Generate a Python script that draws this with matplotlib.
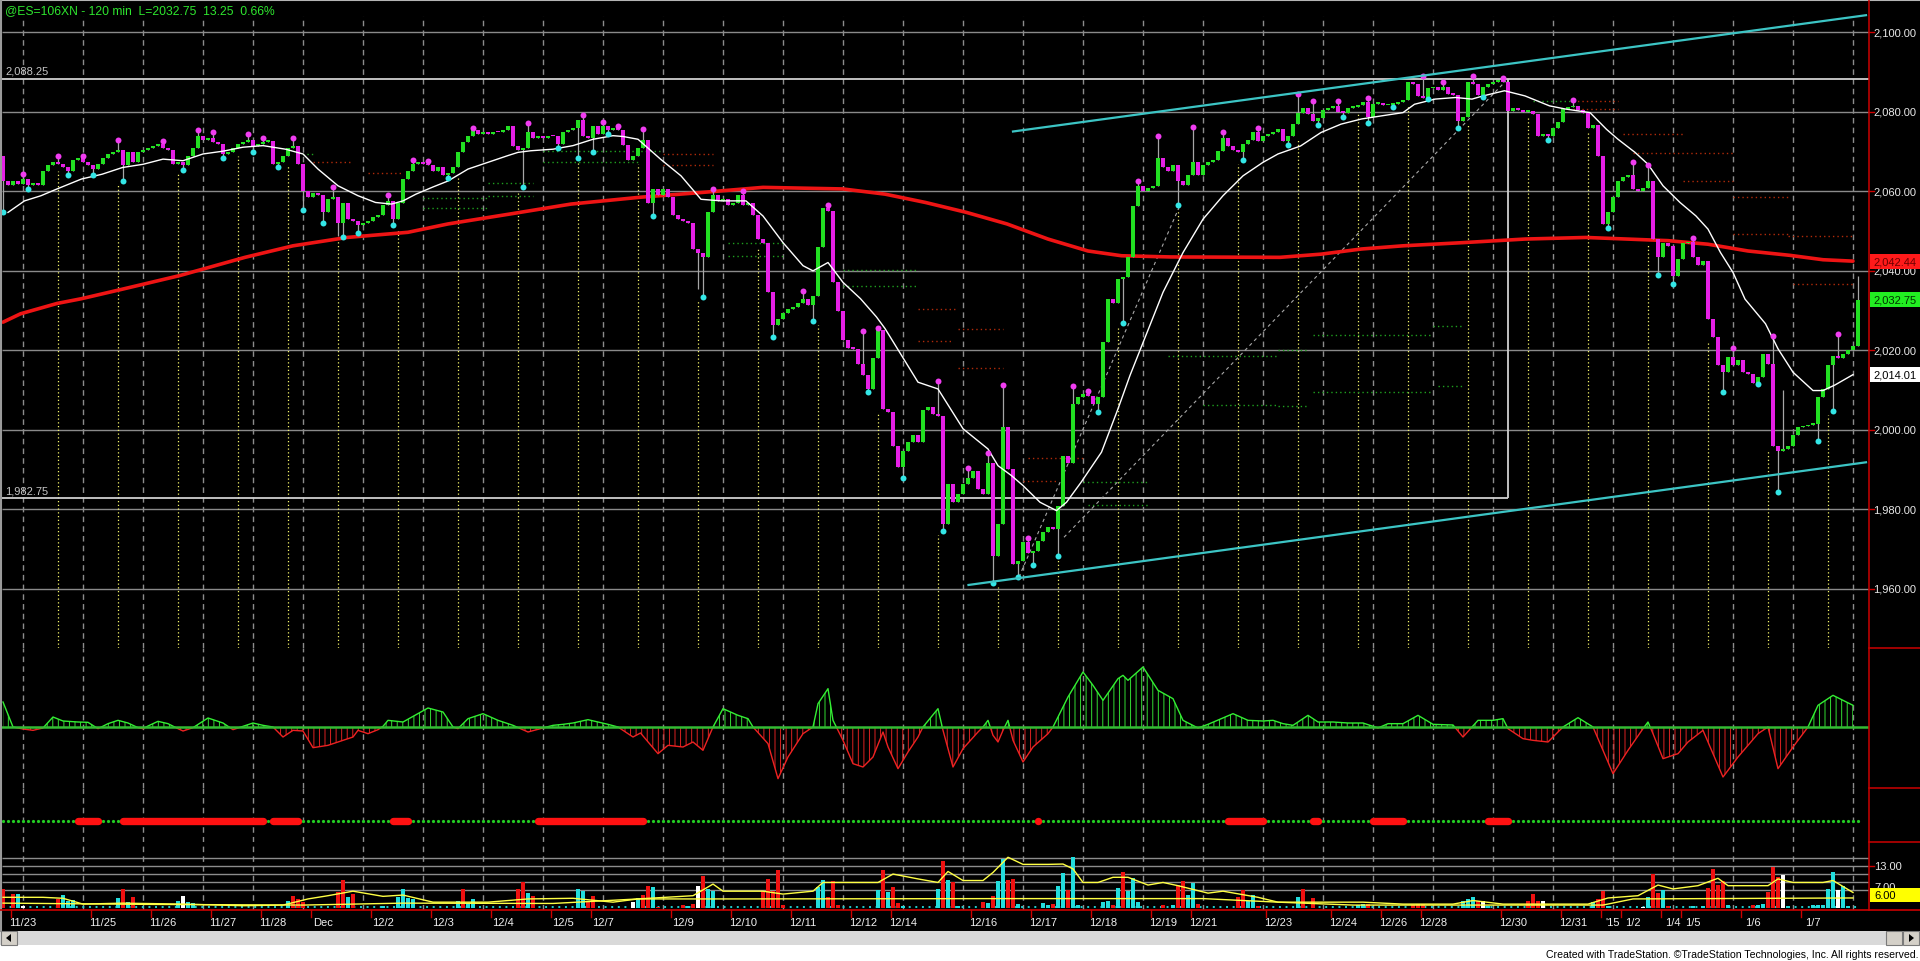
import numpy as np
import matplotlib
matplotlib.use("Agg")
import matplotlib.pyplot as plt
from matplotlib import font_manager as fm
from matplotlib import transforms as mtrans
from matplotlib.patches import Rectangle, Polygon
from matplotlib.lines import Line2D

# ------------------------------------------------------------------ data
TITLE = "@ES=106XN - 120 min  L=2032.75  13.25  0.66%"
OPEN0 = 2069.0
CLOSE = [
    2062.6, 2061.5, 2062.5, 2061.8, 2063, 2061.5, 2062, 2061.5, 2065, 2066.5,
    2067.5, 2066.8, 2066, 2065, 2068, 2068.5, 2067.5, 2066.5, 2065.5, 2067,
    2068.5, 2069.5, 2070, 2070.5, 2066.5, 2070, 2067.5, 2070, 2070.5, 2071,
    2071.3, 2071.8, 2071, 2070.5, 2067, 2067.5, 2066.5, 2069, 2071, 2074,
    2073, 2073.5, 2072.5, 2072, 2069.5, 2070, 2071, 2072, 2072.5, 2072.8,
    2071.5, 2072, 2072.5, 2072.7, 2067, 2067.5, 2069, 2071, 2071.5, 2067,
    2060, 2058.5, 2059.5, 2059, 2054.8, 2058, 2058.5, 2052, 2057, 2053,
    2052.5, 2051.5, 2052, 2052.5, 2053.5, 2054, 2056.5, 2057.6, 2053, 2057,
    2063, 2065, 2067, 2067.5, 2066.8, 2066.5, 2065, 2066, 2064, 2064.5,
    2066, 2070, 2072.5, 2074, 2075.5, 2074.5, 2075, 2074.5, 2075, 2074.8,
    2075.5, 2076.5, 2071.5, 2070.5, 2071, 2075, 2073.5, 2074, 2073.5, 2074,
    2073.8, 2072, 2075, 2075.5, 2076, 2078, 2074, 2073.5, 2076.5, 2074.5,
    2076.5, 2075.5, 2076, 2075.5, 2071.6, 2068, 2069, 2071, 2073, 2057,
    2060.5, 2059, 2060.5, 2058.5, 2054, 2053, 2052.5, 2052, 2045.5, 2044.5,
    2043.4, 2054.7, 2059, 2057.5, 2058, 2056.5, 2057, 2059, 2056.5, 2057,
    2054, 2048, 2047, 2034.6, 2026.3, 2028, 2029.5, 2030.5, 2031, 2032,
    2033, 2031.5, 2033.7, 2046, 2055.8, 2055, 2037.1, 2030, 2022.5, 2020.5,
    2020.4, 2016.6, 2013.7, 2010.3, 2018, 2025, 2005.3, 2004.5, 1996, 1990.6,
    1994.8, 1997, 1998.6, 1996.9, 2004.9, 2005.7, 2004, 2003.6, 1976.3, 1986.4,
    1981.8, 1983.9, 1986.4, 1988, 1989.7, 1985.1, 1984, 1991.8, 1968.3, 1976.3,
    2000.7, 1990.2, 1966.2, 1967, 1971.7, 1969, 1969.5, 1972, 1974.2, 1975.5,
    1975, 1980.9, 1993.5, 1991.8, 2006.6, 2008.2, 2009, 2008.5, 2006.6, 2008.2,
    2022, 2033, 2032, 2038, 2038.5, 2043.4, 2056.4, 2061.4, 2060, 2060.8,
    2061.4, 2068.5, 2066, 2065, 2066.5, 2062.6, 2061.5, 2064, 2067.3, 2064,
    2066.5, 2067.5, 2068, 2070.2, 2073.5, 2071.5, 2070.5, 2070, 2072, 2073,
    2074.8, 2072.7, 2074, 2074.5, 2075, 2075.8, 2072.7, 2074, 2076.9, 2079.8,
    2081, 2079.5, 2077.7, 2078.5, 2080.5, 2081, 2081.5, 2080, 2079.8, 2081,
    2081.3, 2081.8, 2082.4, 2078.6, 2082, 2082.2, 2081.7, 2081.8, 2082, 2082.5,
    2083, 2087.4, 2087, 2084, 2083.6, 2086, 2086.3, 2085.5, 2086.2, 2084.5,
    2084.3, 2077.7, 2078.6, 2087.4, 2087, 2084.3, 2086.2, 2087, 2087.6, 2088,
    2087.5, 2080.3, 2081, 2080.5, 2080, 2080.2, 2079.5, 2074, 2074.5, 2074,
    2076, 2077.5, 2080.7, 2081.2, 2081.5, 2080.5, 2079.8, 2076, 2076.8, 2068.9,
    2051.8, 2054.7, 2058.5, 2062.6, 2063.5, 2064, 2060.6, 2060, 2060.8, 2062.6,
    2048, 2043.4, 2047, 2046.3, 2038.8, 2043, 2047, 2047.3, 2043.5, 2041.5,
    2042.5, 2028, 2023.4, 2016.2, 2014.5, 2018.3, 2016.2, 2017.5, 2014.5, 2014,
    2011.8, 2013.3, 2019.2, 2016.6, 1996, 1994.8, 1995.2, 1996, 1998.6, 2000.7,
    2001, 2001.3, 2001.5, 2008.2, 2010.3, 2016.2, 2018.7, 2018, 2019, 2020,
    2021, 2032.75,
]
HIGH_PTS = {4: 2064.3, 11: 2069, 16: 2069, 23: 2073, 32: 2072.7, 39: 2075.4, 42: 2074.8,
            49: 2074.4, 52: 2073.3, 58: 2073.3, 66: 2061, 77: 2059, 82: 2068, 85: 2067.6,
            94: 2076, 105: 2077.3, 116: 2079.2, 120: 2077.5, 123: 2076.5, 128: 2075.8,
            142: 2060.7, 148: 2060, 160: 2035, 165: 2056.5, 172: 2024.9, 175: 2025.6,
            187: 2012.3, 193: 1990.3, 197: 1994.1, 200: 2011.3, 205: 1972.7, 214: 2011,
            217: 2009.7, 227: 2062.6, 231: 2073.8, 238: 2076.3, 244: 2075, 251: 2076,
            259: 2084.6, 262: 2082.6, 267: 2082.6, 273: 2083.6, 284: 2088.9, 288: 2087.5,
            294: 2088.9, 300: 2088.6, 314: 2082.9, 326: 2067.3, 329: 2066.7, 338: 2048.2,
            346: 2020.6, 354: 2023.6, 356: 2010.0, 367: 2024, 371: 2038.8}
LOW_PTS = {0: 2054.7, 5: 2060.7, 13: 2064, 18: 2064, 24: 2062.6, 36: 2065.3, 44: 2068.3,
           50: 2069.8, 55: 2066, 60: 2055.3, 64: 2052, 67: 2048.8, 68: 2048.4, 71: 2049.5,
           78: 2051.5, 89: 2063.3, 104: 2061.2, 111: 2071, 115: 2068.5, 118: 2070,
           121: 2074.4, 130: 2053.7, 139: 2035.4, 140: 2033.3, 154: 2023.4, 162: 2027.4,
           173: 2009.5, 180: 1987.8, 188: 1974.5, 198: 1961.4, 203: 1962.9, 206: 1966,
           211: 1968.2, 219: 2004.5, 224: 2026.9, 235: 2056.5, 248: 2068, 257: 2071.6,
           263: 2076.6, 268: 2078.6, 273: 2077.2, 278: 2081.3, 285: 2083.2, 291: 2076,
           296: 2083.8, 309: 2073, 321: 2050.7, 331: 2038.9, 334: 2036.7, 344: 2009.5,
           351: 2011.5, 355: 1984.3, 363: 1997.1, 366: 2004.7}
NO_DOT_HIGH = [356, 371]
NO_DOT_LOW = [67, 139]

MA_FAST_BAR = [1, 4.3, 7.6, 10.8, 15.7, 19.8, 23.9, 28, 32, 36, 40, 44, 48, 52, 56.5, 60, 63, 67, 71,
               74.5, 77.7, 80, 82.6, 86, 89, 93, 97, 101, 103, 105.5, 110, 114, 118, 122, 124, 127,
               131.5, 135.6, 139.6, 143.7, 148.6, 152, 156, 160, 162, 165, 168, 171.5, 174.7, 176.4,
               183, 187, 192, 197, 199, 201.7, 204, 207.4, 210.7, 212.7, 215.6, 219.7, 223, 225.4,
               232, 236, 240, 244, 248, 252, 255, 259.5, 263.6, 267.6, 271.7, 275.8, 280, 282.3,
               286.4, 290.5, 293.8, 296, 300.3, 304.4, 309.3, 312.5, 317.4, 320.7, 323, 326.4, 329,
               332, 335.4, 338.6, 341, 343.5, 346, 348.4, 352.5, 355, 358, 362, 364, 366.4, 370]
MA_FAST_VAL = [2054.7, 2057.6, 2058.9, 2060.6, 2063.1, 2064.3, 2066.0, 2066.8, 2068.1, 2067.7,
               2069.4, 2070.1, 2071.1, 2071.5, 2070.6, 2069.4, 2065.6, 2061.4, 2058.9, 2057.2,
               2056.8, 2057.6, 2059.3, 2061.1, 2062.6, 2065.6, 2067.3, 2069.0, 2069.8, 2070.2,
               2070.6, 2071.5, 2073.1, 2074.0, 2073.8, 2073.1, 2068.1, 2063.9, 2058.0, 2057.6,
               2057.6, 2053.8, 2047.1, 2041.3, 2040.0, 2042.1, 2037.1, 2033.0, 2028.4, 2025.5,
               2012.0, 2010.3, 2000.3, 1995.2, 1991.0, 1988.5, 1986.0, 1981.8, 1979.7, 1981.8,
               1986.8, 1994.4, 2005.3, 2013.7, 2034.6, 2044.6, 2053.0, 2058.9, 2063.9,
               2067.3, 2069.4, 2071.4, 2074.8, 2076.9, 2078.2, 2079.0, 2079.8, 2081.9, 2083.2,
               2083.6, 2083.2, 2084.0, 2085.3, 2084.0, 2081.5, 2080.7, 2079.8, 2075.6, 2073.1,
               2069.8, 2066.8, 2061.4, 2057.2, 2053.8, 2050.5, 2044.6, 2039.6, 2032.9, 2026.7,
               2020.4, 2014.5, 2009.9, 2009.9, 2011.3, 2013.9]
MA_SLOW_BAR = [0, 3.5, 10.8, 15.7, 23.9, 35.3, 48.4, 58, 68.8, 81, 89, 101.4, 113.6, 127.3, 139.6,
               152, 160, 168, 176.4, 184.5, 192.7, 200.8, 209, 217, 223.7, 233.5, 255.4, 263.6,
               271.7, 280, 292, 304.4, 316.6, 324.8, 333, 341, 349, 357.4, 364, 370]
MA_SLOW_VAL = [2027.1, 2029.2, 2031.8, 2033.0, 2035.4, 2038.8, 2043.4, 2046.3, 2048.4, 2049.7,
               2051.8, 2054.3, 2056.8, 2058.5, 2059.7, 2061.0, 2060.8, 2060.6, 2059.3, 2057.2,
               2054.7, 2051.8, 2048.0, 2045.0, 2043.8, 2043.5, 2043.4, 2044.2, 2045.5, 2046.3,
               2047.1, 2048.0, 2048.4, 2048.0, 2047.6, 2046.7, 2045.0, 2043.9, 2042.8, 2042.44]

OSC = [(0, 75), (2, 0), (4, -6), (6, -10), (8, -3), (10, 30), (12, 18), (15, 15), (17, 14), (19, -5),
       (21, 10), (23, 20), (25, 12), (27, -2), (28, -5), (29, 3), (31, 17), (33, 10), (35, -5),
       (36, -12), (38, -2), (41, 27), (44, 12), (46, -8), (48, 2), (50, 12), (52, 5), (54, 0),
       (56, -30), (58, -10), (60, -12), (62, -62), (65, -55), (67, -45), (70, -30), (71, -10),
       (73, -20), (75, -8), (76, 2), (77, 20), (80, 15), (83, 40), (85, 57), (88, 45), (90, 0),
       (91, -5), (93, 25), (96, 40), (99, 20), (102, 5), (105, -15), (108, -3), (110, 5), (112, 8),
       (114, 12), (117, 22), (121, 8), (123, 0), (126, -30), (127.5, -18), (131, -80), (133, -55),
       (136, -60), (138, -45), (140, -70), (142, 0), (144, 55), (147, 35), (149, 25), (150, 0),
       (153, -50), (155, -155), (157, -90), (160, -20), (162, 0), (163, 70), (165, 115), (166, 20),
       (168, -40), (170, -110), (172, -120), (174, -90), (176, -15), (177, -60), (179, -125),
       (181, -75), (183, -30), (184, 0), (187, 55), (188, -10), (190, -120), (192, -65), (195, -15),
       (196, 0), (197, 20), (198, -25), (199, -45), (200, -10), (201, 20), (202, -40), (204, -105),
       (206, -60), (209, -20), (210, 0), (213, 90), (216, 165), (218, 125), (220, 80), (223, 145),
       (224, 155), (225, 140), (228, 180), (231, 110), (234, 85), (236, 20), (239, -3), (241, 8),
       (246, 40), (249, 20), (252, 18), (254, 20), (256, 10), (258, 5), (261, 35), (263, 15),
       (266, 15), (269, 12), (272, 12), (275, -3), (277, 10), (280, 10), (283, 35), (286, 8),
       (290, 6), (292, -30), (295, 20), (298, 20), (300, 25), (301, -5), (304, -35), (306, -40),
       (309, -45), (312, 0), (315, 28), (318, 0), (320, -70), (322, -140), (325, -70), (328, -5),
       (329, 15), (330, -20), (332, -95), (335, -80), (337, -45), (340, -10), (344, -150),
       (347, -90), (351, -20), (353, 0), (355, -125), (358, -60), (361, 0), (363, 65), (366, 95),
       (368, 80), (370, 65)]
OSC_BAR = [b for b, v in OSC]
OSC_VAL = [v for b, v in OSC]

DOT_RED_RANGES = [(15, 19), (24, 52), (54, 59), (78, 81), (107, 128), (207, 207),
                  (245, 252), (262, 263), (274, 280), (297, 301)]

VOL = [(0, 6.0, 'r'), (2, 4.4, 'r'), (3, 4.4, 'c'), (4, 0.8, 'w'), (11, 2.9, 'r'), (12, 4.1, 'c'),
       (13, 2.4, 'c'), (14, 2.6, 'c'), (23, 3.1, 'c'), (24, 6.0, 'r'), (25, 1.9, 'c'), (26, 3.4, 'r'),
       (35, 2.4, 'c'), (36, 3.9, 'w'), (37, 1.9, 'c'), (38, 1.5, 'c'), (57, 2.4, 'c'), (58, 3.9, 'r'),
       (59, 2.9, 'r'), (60, 1.9, 'r'), (67, 5.0, 'r'), (68, 8.8, 'r'), (69, 3.4, 'c'), (70, 4.4, 'r'),
       (76, 0.8, 'c'), (79, 3.4, 'c'), (80, 6.0, 'c'), (81, 3.1, 'c'), (82, 2.9, 'c'), (91, 2.4, 'c'),
       (92, 6.0, 'r'), (93, 1.5, 'c'), (94, 2.9, 'c'), (103, 6.0, 'r'), (104, 8.0, 'r'),
       (105, 4.7, 'c'), (106, 3.9, 'r'), (115, 6.0, 'c'), (116, 5.3, 'c'), (117, 2.4, 'r'),
       (118, 3.9, 'r'), (126, 1.9, 'w'), (127, 3.1, 'c'), (128, 4.1, 'r'), (129, 7.0, 'r'),
       (130, 6.5, 'c'), (131, 0.3, 'r'), (136, 1.1, 'r'), (137, 0.8, 'c'), (138, 1.3, 'r'),
       (139, 7.0, 'w'), (140, 10.1, 'r'), (141, 6.0, 'c'), (142, 5.3, 'c'), (152, 5.5, 'r'),
       (153, 9.1, 'r'), (154, 5.5, 'r'), (155, 11.9, 'r'), (156, 1.1, 'r'), (163, 6.5, 'c'),
       (164, 8.8, 'c'), (165, 3.4, 'r'), (166, 8.4, 'r'), (167, 1.0, 'r'), (175, 5.8, 'c'),
       (176, 11.9, 'r'), (177, 5.0, 'c'), (178, 6.5, 'r'), (179, 1.5, 'r'), (180, 0.8, 'c'),
       (187, 6.0, 'c'), (188, 14.7, 'r'), (189, 8.8, 'c'), (190, 8.0, 'r'), (191, 0.8, 'c'),
       (196, 1.9, 'r'), (197, 1.5, 'c'), (198, 3.9, 'r'), (199, 8.4, 'c'), (200, 15.3, 'c'),
       (201, 8.9, 'r'), (202, 9.1, 'r'), (203, 1.3, 'c'), (208, 1.5, 'c'), (209, 1.1, 'c'),
       (210, 1.3, 'r'), (211, 7.0, 'c'), (212, 10.8, 'c'), (213, 5.7, 'r'), (214, 15.8, 'c'),
       (215, 1.0, 'c'), (220, 1.9, 'c'), (221, 2.2, 'c'), (222, 1.1, 'r'), (223, 6.3, 'c'),
       (224, 11.3, 'r'), (225, 5.3, 'c'), (226, 9.3, 'c'), (227, 1.9, 'c'), (232, 1.1, 'r'),
       (234, 1.1, 'c'), (235, 7.3, 'r'), (236, 8.4, 'r'), (237, 4.1, 'c'), (238, 7.7, 'c'),
       (239, 1.3, 'r'), (247, 3.4, 'r'), (248, 5.8, 'r'), (249, 2.4, 'c'), (250, 4.1, 'c'),
       (251, 0.8, 'r'), (259, 3.6, 'c'), (260, 6.0, 'r'), (262, 3.2, 'r'), (271, 1.1, 'c'),
       (272, 1.3, 'c'), (273, 1.3, 'r'), (282, 1.0, 'r'), (283, 1.3, 'r'), (284, 1.3, 'r'),
       (292, 2.4, 'c'), (293, 2.9, 'c'), (294, 3.4, 'c'), (295, 2.2, 'r'), (296, 2.2, 'w'),
       (297, 0.8, 'c'), (305, 2.4, 'r'), (306, 4.4, 'r'), (307, 2.2, 'r'), (308, 2.2, 'w'),
       (318, 1.9, 'c'), (319, 2.9, 'r'), (320, 5.3, 'r'), (321, 0.8, 'c'), (328, 0.5, 'w'),
       (329, 3.4, 'c'), (330, 10.6, 'r'), (331, 4.6, 'r'), (332, 5.8, 'c'), (333, 0.8, 'r'),
       (338, 0.8, 'c'), (340, 0.8, 'c'), (341, 6.2, 'r'), (342, 12.2, 'r'), (343, 7.3, 'r'),
       (344, 8.4, 'r'), (345, 1.0, 'c'), (350, 1.1, 'r'), (351, 1.1, 'c'), (352, 1.3, 'c'),
       (353, 5.0, 'r'), (354, 12.9, 'r'), (355, 9.6, 'r'), (356, 10.3, 'w'), (357, 0.8, 'c'),
       (362, 1.0, 'c'), (363, 1.0, 'c'), (364, 1.0, 'c'), (365, 6.0, 'c'), (366, 11.1, 'c'),
       (367, 5.8, 'w'), (368, 7.0, 'c'), (369, 0.8, 'c')]
VOL_BAR = [b for b, v, c in VOL]
VOL_VAL = [v for b, v, c in VOL]
VOL_CLR = [c for b, v, c in VOL]

VAVG1_BAR = [0, 8, 12, 16, 24, 36, 48, 56, 61, 65, 70, 76, 80, 86, 97, 105, 114, 122, 127, 138,
             142, 144, 152, 156, 162, 164, 175, 178, 183, 187, 189, 192, 196, 198, 201, 204, 209,
             212, 214, 216, 219, 222, 225, 229, 232, 235, 241, 244, 251, 255, 272, 280, 290, 294,
             300, 317, 321, 327, 331, 334, 339, 343, 345, 353, 355, 358, 364, 366, 370]
VAVG1_VAL = [3.4, 3.4, 3.1, 1.3, 1.6, 1.3, 0.8, 1.0, 2.9, 3.9, 5.3, 3.7, 4.1, 1.9, 1.9, 2.9, 3.1,
             1.9, 2.9, 3.9, 7.5, 5.3, 5.3, 4.4, 5.3, 8.0, 8.0, 10.6, 9.1, 8.0, 11.4, 8.6, 8.6, 11.1,
             15.8, 13.6, 13.6, 13.7, 12.2, 8.0, 8.0, 9.6, 9.6, 7.2, 8.0, 7.0, 4.7, 5.3, 3.4, 1.9,
             1.9, 1.3, 1.3, 2.4, 1.3, 1.3, 3.2, 3.9, 7.2, 6.0, 7.0, 9.3, 7.0, 7.0, 9.1, 8.0, 8.0,
             8.6, 4.9]
VAVG2_BAR = [0, 30, 60, 80, 110, 127, 145, 200, 240, 255, 270, 320, 326, 370]
VAVG2_VAL = [1.6, 1.2, 1.0, 1.6, 1.5, 2.9, 2.9, 3.0, 3.0, 1.9, 1.0, 1.0, 2.9, 3.2]
VOL_GRID = [5.6, 8.1, 10.6, 13.0, 15.5]

DATE_LABELS = ['11/23', '11/25', '11/26', '11/27', '11/28', 'Dec', '12/2', '12/3', '12/4', '12/5',
               '12/7', '12/9', '12/10', '12/11', '12/12', '12/14', '12/16', '12/17', '12/18',
               '12/19', '12/21', '12/23', '12/24', '12/26', '12/28', '12/30', '12/31', "'15",
               '1/2', '1/4', '1/5', '1/6', '1/7']
DATE_BARS = [4, 20, 32, 44, 54, 64, 76, 88, 100, 112, 120, 136, 148, 160, 172, 180, 196, 208,
             220, 232, 240, 255, 268, 278, 286, 302, 314, 322, 326, 334, 338, 350, 362]
DAY_GRID_BARS = [4, 16, 28, 40, 50, 60, 72, 84, 96, 108, 120, 132, 144, 156, 168, 180, 192, 204,
                 216, 228, 240, 252, 264, 274, 286, 298, 310, 322, 334, 346, 358, 370]
YELLOW_BARS = [11, 23, 35, 47, 57, 67, 79, 91, 103, 115, 127, 139, 151, 163, 175, 187, 199, 211,
               223, 235, 247, 259, 271, 281, 293, 305, 317, 329, 341, 353, 365]
PRICE_TICKS = [1960, 1980, 2000, 2020, 2040, 2060, 2080, 2100]
LEVEL_HI, LEVEL_LO, BOX_END_BAR = 2088.25, 1982.75, 301
CHAN_UP = ([202.0, 372.6], [2075.05, 2104.3])
CHAN_DN = ([193.1, 372.6], [1961.0, 1991.85])
DIAG_1 = ([203.2, 235.4], [1963.0, 2056.5])
DIAG_2 = ([212.2, 300.6], [1973.0, 2087.8])
SR_LINES = [(59, 62, 2069.4, 'g'), (62, 70, 2067.5, 'r'), (73, 80, 2064.7, 'r'),
            (84, 97, 2058.3, 'g'), (84, 97, 2055.7, 'g'), (97, 106, 2062.0, 'g'),
            (97, 106, 2058.8, 'g'), (108, 132, 2070.2, 'g'), (108, 127, 2067.3, 'g'),
            (132, 142, 2069.4, 'r'), (132, 142, 2066.6, 'r'), (145, 156, 2046.9, 'g'),
            (145, 156, 2043.8, 'g'), (168, 183, 2040.3, 'g'), (168, 183, 2036.3, 'g'),
            (183, 191, 2030.4, 'r'), (183, 190, 2022.4, 'r'), (191, 200, 2025.3, 'r'),
            (191, 200, 2015.5, 'r'), (204, 211, 1987.2, 'r'), (205, 216, 1992.9, 'r'),
            (216, 229, 1987.0, 'g'), (217, 229, 1981.2, 'g'), (233, 255, 2018.6, 'g'),
            (255, 261, 2020.0, 'g'), (240, 255, 2006.3, 'g'), (255, 261, 2006.1, 'g'),
            (262, 286, 2023.8, 'g'), (286, 292, 2026.1, 'g'), (262, 286, 2009.5, 'g'),
            (287, 292, 2011.0, 'g'), (306, 314, 2082.8, 'g'), (314, 323, 2082.8, 'r'),
            (314, 323, 2080.8, 'r'), (324, 336, 2074.4, 'r'), (326, 346, 2069.6, 'r'),
            (336, 346, 2062.6, 'r'), (346, 357, 2058.5, 'r'), (346, 357, 2049.2, 'r'),
            (357, 370, 2048.7, 'r'), (358, 370, 2036.7, 'r')]
LAST_TAGS = [(2042.44, '#ff1a1a', '#6a0000'), (2032.75, '#22ee22', '#003300'),
             (2014.01, '#ffffff', '#000000')]
COPYRIGHT = "Created with TradeStation. \u00a9TradeStation Technologies, Inc. All rights reserved."

# ------------------------------------------------------------------ style
avail = {f.name for f in fm.fontManager.ttflist}
FONT = next((f for f in ['Liberation Sans', 'Arial', 'DejaVu Sans'] if f in avail), 'DejaVu Sans')
plt.rcParams['font.family'] = [FONT, 'DejaVu Sans']
plt.rcParams['hatch.linewidth'] = 0.7

GREEN, MAGENTA = '#22e022', '#e620e6'
CYAN_DOT, MAG_DOT = '#33e6e6', '#f03cf0'
GRID_GREY = '#8a8a8a'
DAY_GREY = '#8c8c8c'
AXRED = '#cc0000'

W, H = 1920, 962
BAR_X0, BAR_DX = 3.0, 5.0
PLOT_L, PLOT_R = 2.0, 1869.0
XLIM = ((PLOT_L - BAR_X0) / BAR_DX, (PLOT_R - BAR_X0) / BAR_DX)
Y_MAIN = (3, 649)
Y_OSC = (649, 789)
Y_DOTS = (789, 843)
Y_VOL = (843, 911)
P_REF, P_REF_Y, PX_PER_PT = 2100.0, 33.3, 3.976

fig = plt.figure(figsize=(W / 100, H / 100), dpi=100, facecolor='black')


def fx(px):
    return px / W


def fy(py):
    return 1 - py / H


def panel(y0, y1):
    ax = fig.add_axes([fx(PLOT_L), fy(y1), (PLOT_R - PLOT_L) / W, (y1 - y0) / H])
    ax.set_xlim(*XLIM)
    ax.set_axis_off()
    return ax


def fig_line(x0, y0, x1, y1, **kw):
    fig.add_artist(Line2D([fx(x0), fx(x1)], [fy(y0), fy(y1)], transform=fig.transFigure, **kw))


def fig_rect(x0, y0, x1, y1, **kw):
    fig.add_artist(Rectangle((fx(x0), fy(y1)), (x1 - x0) / W, (y1 - y0) / H,
                             transform=fig.transFigure, **kw))


def day_grid(ax, y0=None, y1=None):
    lo, hi = ax.get_ylim()
    ax.vlines(DAY_GRID_BARS, lo if y0 is None else y0, hi if y1 is None else y1,
              color=DAY_GREY, lw=1.0, linestyles=(0, (4, 3)), zorder=1)


# ------------------------------------------------------------------ main price panel
axm = panel(*Y_MAIN)
ytop = P_REF + (P_REF_Y - Y_MAIN[0]) / PX_PER_PT
ybot = P_REF - (Y_MAIN[1] - P_REF_Y) / PX_PER_PT
axm.set_ylim(ybot, ytop)

C = np.array(CLOSE, dtype=float)
n = len(C)
idx = np.arange(n)
O = np.concatenate([[OPEN0], C[:-1]])
top = np.maximum(O, C)
bot = np.minimum(O, C)
HI = top.copy()
LO = bot.copy()
for k, v in HIGH_PTS.items():
    HI[k] = max(HI[k], v)
for k, v in LOW_PTS.items():
    LO[k] = min(LO[k], v)

axm.hlines(PRICE_TICKS, XLIM[0], XLIM[1], color=GRID_GREY, lw=1.0, zorder=1)
day_grid(axm, ybot, 2104.0)
for b in YELLOW_BARS:
    lo_here = LO[max(b - 1, 0):b + 2].min() - 1.0
    axm.vlines(b, ybot, lo_here, color='#f5f56a', lw=0.9, linestyles=(0, (1, 2)), zorder=1)

# levels box
axm.hlines(LEVEL_HI, XLIM[0], XLIM[1], color='#d0d0d0', lw=1.3, zorder=1.5)
axm.hlines(LEVEL_LO, XLIM[0], BOX_END_BAR, color='#d0d0d0', lw=1.3, zorder=1.5)
axm.vlines(BOX_END_BAR, LEVEL_LO, LEVEL_HI, color='#d0d0d0', lw=1.3, zorder=1.5)

for s, e, p, c in SR_LINES:
    axm.plot([s, e], [p, p], color='#1f9f1f' if c == 'g' else '#b02a0a', lw=1.0,
             ls=(0, (1, 2.2)), zorder=1.6)

axm.plot(*DIAG_1, color='#a8a8a8', lw=0.8, ls=(0, (3, 3)), zorder=1.7)
axm.plot(*DIAG_2, color='#a8a8a8', lw=0.8, ls=(0, (3, 3)), zorder=1.7)

axm.plot(MA_SLOW_BAR, MA_SLOW_VAL, color='#ee1414', lw=2.6, zorder=2, solid_capstyle='round')

# candles
axm.vlines(idx, LO, HI, color='#a6a6a6', lw=0.9, zorder=3)
body_h = np.maximum(top - bot, 0.35)
up = C >= O
axm.bar(idx[up], body_h[up], bottom=bot[up], width=0.66, color=GREEN, lw=0, zorder=4)
axm.bar(idx[~up], body_h[~up], bottom=bot[~up], width=0.66, color=MAGENTA, lw=0, zorder=4)

axm.plot(MA_FAST_BAR, MA_FAST_VAL, color='#ffffff', lw=1.0, zorder=4.5)

mag_bars = [b for b in HIGH_PTS if b not in NO_DOT_HIGH]
cy_bars = [b for b in LOW_PTS if b not in NO_DOT_LOW]
axm.plot(mag_bars, HI[mag_bars], 'o', color=MAG_DOT, ms=4.3, mec='none', zorder=5)
axm.plot(cy_bars, LO[cy_bars], 'o', color=CYAN_DOT, ms=4.3, mec='none', zorder=5)

axm.plot(*CHAN_UP, color='#3cc4c4', lw=1.6, zorder=5.5)
axm.plot(*CHAN_DN, color='#3cc4c4', lw=1.6, zorder=5.5)

# ------------------------------------------------------------------ oscillator panel
axo = panel(*Y_OSC)
OSC_ZERO_Y = 728.0
axo.set_ylim(-(Y_OSC[1] - OSC_ZERO_Y) * 3, (OSC_ZERO_Y - Y_OSC[0]) * 3)
day_grid(axo)
ob = np.array(OSC_BAR, dtype=float)
ov = np.array(OSC_VAL, dtype=float)
axo.fill_between(ob, 0, ov, where=ov >= 0, interpolate=True, facecolor='none',
                 edgecolor='#33dd33', hatch='|||', linewidth=0, zorder=2)
axo.fill_between(ob, 0, ov, where=ov <= 0, interpolate=True, facecolor='none',
                 edgecolor='#dd2222', hatch='|||', linewidth=0, zorder=2)
ln_g, = axo.plot(ob, ov, color='#33ee33', lw=1.0, zorder=3)
ln_g.set_clip_path(Rectangle((XLIM[0], 0), XLIM[1] - XLIM[0], 1000, transform=axo.transData))
ln_r, = axo.plot(ob, ov, color='#ee2222', lw=1.0, zorder=3)
ln_r.set_clip_path(Rectangle((XLIM[0], -1000), XLIM[1] - XLIM[0], 1000, transform=axo.transData))
axo.axhline(0, color='#33bb33', lw=1.8, zorder=3.5)

# ------------------------------------------------------------------ dots panel
axd = panel(*Y_DOTS)
axd.set_ylim(0, 1)
day_grid(axd)
DOT_Y = (Y_DOTS[1] - 822) / (Y_DOTS[1] - Y_DOTS[0])
red_set = set()
for s, e in DOT_RED_RANGES:
    red_set.update(range(s, e + 1))
g_bars = [i for i in range(n) if i not in red_set]
axd.plot(g_bars, [DOT_Y] * len(g_bars), 'o', color='#22cc22', ms=2.3, mec='none', zorder=2)
for s, e in DOT_RED_RANGES:
    if e > s:
        axd.plot([s, e], [DOT_Y, DOT_Y], color='#ff1111', lw=5.3, solid_capstyle='round', zorder=3)
    else:
        axd.plot([s], [DOT_Y], 'o', color='#ff1111', ms=5.3, mec='none', zorder=3)

# ------------------------------------------------------------------ volume panel
axv = panel(*Y_VOL)
VOL_BASE_Y, VOL_PX = 909.3, 3.23
axv.set_ylim((VOL_BASE_Y - Y_VOL[1]) / VOL_PX, (VOL_BASE_Y - Y_VOL[0]) / VOL_PX)
day_grid(axv)
axv.hlines(VOL_GRID, XLIM[0], XLIM[1], color='#8c8c8c', lw=1.0, zorder=1.2)
cmap = {'r': '#ee1111', 'c': '#22dddd', 'w': '#ffffff'}
axv.bar(VOL_BAR, VOL_VAL, width=0.66, color=[cmap[c] for c in VOL_CLR], lw=0, zorder=2)
axv.plot([0, n - 1], [0.3, 0.3], color='#22cccc', lw=1.4, ls=(0, (1, 2.4)), zorder=1.5)
axv.plot(VAVG1_BAR, VAVG1_VAL, color='#ffff44', lw=1.0, zorder=3)
axv.plot(VAVG2_BAR, VAVG2_VAL, color='#ffff44', lw=1.0, zorder=3)

# ------------------------------------------------------------------ frame, axes & labels
fig_line(0, 1, W, 1, color='#b4b4b4', lw=1.5)
fig_line(1, 0, 1, 932, color='#9a9a9a', lw=1.5)
fig_line(PLOT_R, 0, PLOT_R, Y_VOL[1], color=AXRED, lw=1.1)
for yy in (Y_MAIN[1], Y_OSC[1], Y_DOTS[1]):
    fig_line(PLOT_R, yy, W, yy, color=AXRED, lw=1.1)
fig_line(0, Y_VOL[1], W, Y_VOL[1], color=AXRED, lw=1.2)

fig.text(fx(5), fy(11), TITLE, color='#2ee62e', fontsize=8.7, va='center', ha='left')

tr_main = mtrans.blended_transform_factory(fig.transFigure, axm.transData)
for p in PRICE_TICKS:
    fig.text(fx(1873), p, f"{p:,.2f}", transform=tr_main, color='#e8e8e8', fontsize=8.0,
             va='center', ha='left', zorder=3)
    fig.add_artist(Line2D([fx(PLOT_R), fx(1874)], [p, p], transform=tr_main, color=AXRED, lw=1))
tag_h = 15 / PX_PER_PT
for p, bg, fg in LAST_TAGS:
    fig.add_artist(Rectangle((fx(1870), p - tag_h / 2), 50 / W, tag_h, transform=tr_main,
                             facecolor=bg, edgecolor='none', zorder=5))
    fig.text(fx(1873), p, f"{p:,.2f}", transform=tr_main, color=fg, fontsize=8.0,
             va='center', ha='left', zorder=6)

fig.text(fx(5), fy(72), f"{LEVEL_HI:,.2f}", color='#c4c4c4', fontsize=8.0, va='center')
fig.text(fx(5), fy(492), f"{LEVEL_LO:,.2f}", color='#c4c4c4', fontsize=8.0, va='center')

tr_vol = mtrans.blended_transform_factory(fig.transFigure, axv.transData)
fig.text(fx(1874), 13.0, "13.00", transform=tr_vol, color='#e8e8e8', fontsize=8.0,
         va='center', ha='left', zorder=3)
fig.add_artist(Line2D([fx(PLOT_R), fx(1874)], [13.0, 13.0], transform=tr_vol, color=AXRED, lw=1))
fig.text(fx(1874), fy(888.5), "7.00", color='#e8e8e8', fontsize=8.0, va='center', ha='left',
         zorder=3)
fig_rect(1870, 889, 1920, 903, facecolor='#ffff00', edgecolor='none', zorder=5)
fig.text(fx(1874), fy(896), "6.00", color='#000000', fontsize=8.0, va='center', ha='left',
         zorder=6)

tr_date = mtrans.blended_transform_factory(axv.transData, fig.transFigure)
for lab, b in zip(DATE_LABELS, DATE_BARS):
    fig.text(b, fy(923), lab, transform=tr_date, color='#f0f0f0', fontsize=8.0,
             ha='center', va='center')
    fig.add_artist(Line2D([b - 2.5, b - 2.5], [fy(Y_VOL[1]), fy(918)], transform=tr_date,
                          color=AXRED, lw=1))

# scroll bar and footer
fig_rect(0, 932, W, 946, facecolor='#d9d9d9', edgecolor='none', zorder=1)
fig_rect(1, 932, 17, 946, facecolor='#d4d0c8', edgecolor='#7a7a7a', lw=0.8, zorder=2)
fig.add_artist(Polygon([[fx(6), fy(939)], [fx(11), fy(935)], [fx(11), fy(943)]],
                       closed=True, transform=fig.transFigure, facecolor='black', zorder=3))
fig_rect(1886, 932, 1902, 946, facecolor='#d4d0c8', edgecolor='#7a7a7a', lw=0.8, zorder=2)
fig_rect(1903, 932, 1919, 946, facecolor='#d4d0c8', edgecolor='#7a7a7a', lw=0.8, zorder=2)
fig.add_artist(Polygon([[fx(1914), fy(939)], [fx(1909), fy(935)], [fx(1909), fy(943)]],
                       closed=True, transform=fig.transFigure, facecolor='black', zorder=3))
fig_rect(0, 946, W, H, facecolor='#ffffff', edgecolor='none', zorder=1)
fig.text(fx(1918), fy(955), COPYRIGHT, color='#000000', fontsize=7.6, ha='right', va='center',
         zorder=3)

fig.savefig('out.png', dpi=100, facecolor='black')
